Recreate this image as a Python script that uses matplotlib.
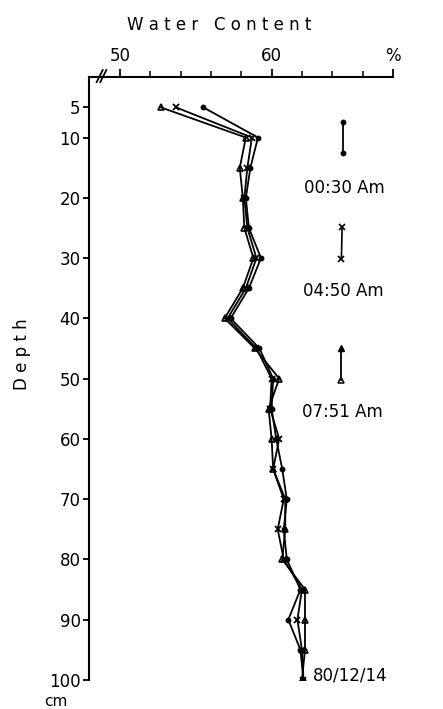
import numpy as np
import matplotlib
matplotlib.use("Agg")
import matplotlib.pyplot as plt

# Water content (%) profiles against depth (cm)
depth = [5, 10, 15, 20, 25, 30, 35, 40, 45, 50, 55, 60, 65, 70, 75, 80, 85, 90, 95, 100]
wc_0030 = [55.5, 59.1, 58.6, 58.3, 58.5, 59.3, 58.5, 57.3, 59.2, 60.1,
           60.0, 60.3, 60.7, 61.0, 60.8, 61.0, 61.9, 61.1, 61.9, 62.1]
wc_0450 = [53.7, 58.7, 58.4, 58.2, 58.4, 59.0, 58.3, 57.1, 59.0, 60.0,
           59.9, 60.5, 60.1, 60.8, 60.4, 60.8, 62.0, 61.7, 62.0, 62.1]
wc_0751 = [52.7, 58.3, 57.9, 58.1, 58.2, 58.8, 58.1, 56.9, 58.9, 60.5,
           59.8, 60.0, 60.1, 60.9, 60.9, 60.7, 62.2, 62.2, 62.2, 62.0]
labels = ["00:30 Am", "04:50 Am", "07:51 Am"]
depth_ticks = [5, 10, 20, 30, 40, 50, 60, 70, 80, 90, 100]
wc_ticks = [50, 60, 68]
wc_ticklabels = ["50", "60", "%"]
date_text = "80/12/14"

plt.rcParams["font.family"] = ["DejaVu Sans"]

fig = plt.figure(figsize=(4.43, 7.09), dpi=100)
ax = fig.add_axes([0.201, 0.041, 0.686, 0.850])

ax.plot(wc_0030, depth, color="black", lw=1.3, marker="o", ms=3.2)
ax.plot(wc_0450, depth, color="black", lw=1.3, marker="x", ms=4.5, mew=1.3)
ax.plot(wc_0751, depth, color="black", lw=1.3, marker="^", ms=4.5,
        mfc="none", mew=1.2)

ax.set_xlim(47.96, 68)
ax.set_ylim(100, 0)

# top axis only, left axis only
ax.spines["right"].set_visible(False)
ax.spines["bottom"].set_visible(False)
ax.spines["top"].set_linewidth(1.5)
ax.spines["left"].set_linewidth(1.5)
ax.xaxis.tick_top()
ax.set_xticks(wc_ticks)
ax.set_xticklabels(wc_ticklabels)
ax.set_xticks(np.arange(52, 68, 2), minor=True)
ax.tick_params(axis="x", which="major", direction="out", length=6, width=1.3,
               labelsize=12, pad=3)
ax.tick_params(axis="x", which="minor", direction="out", length=4, width=1.1)
ax.set_yticks(depth_ticks)
ax.tick_params(axis="y", direction="out", length=4, width=1.3, labelsize=12, pad=2)

# axis break mark
for dx in (0.0, 0.012):
    ax.plot([0.025 + dx, 0.045 + dx], [0.992, 1.012], transform=ax.transAxes,
            color="black", lw=1.3, clip_on=False)

fig.text(0.495, 0.965, "W a t e r   C o n t e n t", ha="center", va="center",
         fontsize=12)
fig.text(0.05, 0.50, "D e p t h", ha="center", va="center", rotation=90,
         fontsize=12)
fig.text(0.125, 0.011, "cm", ha="center", va="center", fontsize=11)

# hand-drawn style key on the right
key_x = 64.7
ax.plot([key_x, key_x], [7.5, 12.5], color="black", lw=1.3, marker="o", ms=3.2)
ax.text(key_x + 0.1, 18.3, labels[0], ha="center", va="center", fontsize=12)
ax.plot([key_x - 0.05, key_x - 0.1], [24.8, 30.2], color="black", lw=1.2,
        marker="x", ms=4, mew=1.2)
ax.text(key_x, 35.5, labels[1], ha="center", va="center", fontsize=12)
ax.plot([key_x - 0.15, key_x - 0.15], [45.2, 50.3], color="black", lw=1.3)
ax.plot([key_x - 0.15], [44.9], color="black", marker="^", ms=4)
ax.plot([key_x - 0.15], [50.3], color="black", marker="^", ms=4.5,
        mfc="none", mew=1.1)
ax.text(key_x - 0.05, 55.6, labels[2], ha="center", va="center", fontsize=12)
ax.text(65.2, 99.2, date_text, ha="center", va="center", fontsize=12)

fig.savefig("out.png", dpi=100)
